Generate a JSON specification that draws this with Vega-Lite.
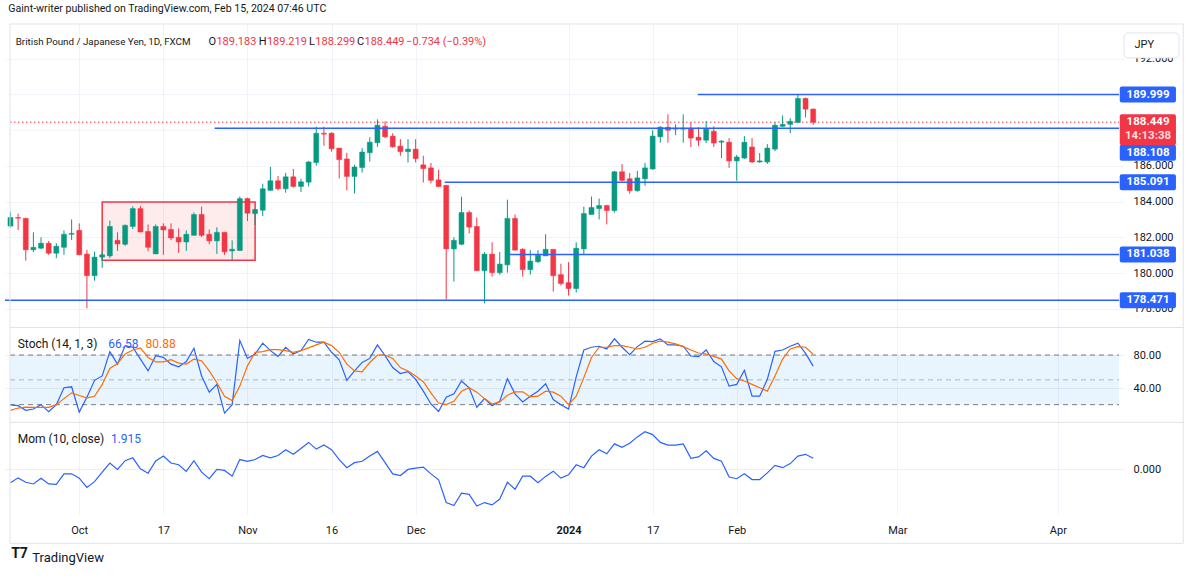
{
  "$schema": "https://vega.github.io/schema/vega-lite/v6.json",
  "width": 1119,
  "height": 490,
  "autosize": {"type": "none"},
  "padding": {"left": 5, "top": 24, "right": 71, "bottom": 63},
  "background": "#ffffff",
  "config": {"view": {"stroke": null}, "font": "Roboto", "text": {"font": "Roboto"}, "axis": {"labelFont": "Roboto"}},
  "datasets": {
    "one": [{}],
    "candles": [
      {"i":-9,"o":182.63,"h":183.43,"l":182.55,"c":183.11},
      {"i":-8,"o":183.11,"h":183.33,"l":182.41,"c":183.07},
      {"i":-7,"o":183.06,"h":183.1,"l":180.69,"c":181.3},
      {"i":-6,"o":181.3,"h":182.28,"l":181.17,"c":181.44},
      {"i":-5,"o":181.39,"h":182.0,"l":181.33,"c":181.67},
      {"i":-4,"o":181.67,"h":181.8,"l":181.02,"c":181.11},
      {"i":-3,"o":181.11,"h":181.67,"l":180.83,"c":181.5},
      {"i":-2,"o":181.44,"h":182.39,"l":181.02,"c":182.17},
      {"i":-1,"o":182.17,"h":183.0,"l":181.85,"c":182.22},
      {"i":0,"o":182.39,"h":182.78,"l":181.0,"c":181.02},
      {"i":1,"o":181.06,"h":181.3,"l":178.02,"c":179.85},
      {"i":2,"o":179.85,"h":181.2,"l":179.57,"c":180.89},
      {"i":3,"o":180.89,"h":181.17,"l":180.28,"c":181.02},
      {"i":4,"o":180.96,"h":182.94,"l":180.83,"c":182.61},
      {"i":5,"o":181.83,"h":182.28,"l":181.24,"c":181.63},
      {"i":6,"o":181.61,"h":182.72,"l":181.52,"c":182.67},
      {"i":7,"o":182.61,"h":183.74,"l":182.46,"c":183.61},
      {"i":8,"o":183.61,"h":183.76,"l":182.28,"c":182.3},
      {"i":9,"o":182.33,"h":182.72,"l":181.22,"c":181.44},
      {"i":10,"o":181.07,"h":182.72,"l":181.07,"c":182.61},
      {"i":11,"o":182.61,"h":182.78,"l":181.02,"c":182.41},
      {"i":12,"o":182.44,"h":182.78,"l":181.85,"c":181.96},
      {"i":13,"o":182.0,"h":182.5,"l":181.13,"c":181.74},
      {"i":14,"o":181.74,"h":182.39,"l":181.24,"c":182.17},
      {"i":15,"o":182.11,"h":183.39,"l":182.11,"c":183.28},
      {"i":16,"o":183.28,"h":183.72,"l":182.02,"c":182.11},
      {"i":17,"o":182.17,"h":182.44,"l":181.61,"c":181.8},
      {"i":18,"o":181.8,"h":182.56,"l":181.07,"c":182.28},
      {"i":19,"o":182.28,"h":182.28,"l":181.02,"c":181.19},
      {"i":20,"o":181.24,"h":181.83,"l":180.74,"c":181.33},
      {"i":21,"o":181.26,"h":184.28,"l":181.24,"c":184.17},
      {"i":22,"o":184.17,"h":184.22,"l":182.91,"c":183.35},
      {"i":23,"o":183.33,"h":183.56,"l":182.69,"c":183.56},
      {"i":24,"o":183.52,"h":185.0,"l":183.19,"c":184.72},
      {"i":25,"o":184.63,"h":185.94,"l":184.63,"c":185.17},
      {"i":26,"o":185.17,"h":185.44,"l":184.63,"c":184.72},
      {"i":27,"o":184.72,"h":185.61,"l":184.5,"c":185.39},
      {"i":28,"o":185.39,"h":185.83,"l":184.78,"c":184.85},
      {"i":29,"o":184.85,"h":185.28,"l":184.54,"c":185.11},
      {"i":30,"o":185.09,"h":186.28,"l":184.85,"c":186.22},
      {"i":31,"o":186.19,"h":188.2,"l":186.02,"c":187.83},
      {"i":32,"o":187.83,"h":188.2,"l":187.13,"c":187.78},
      {"i":33,"o":187.83,"h":187.89,"l":186.8,"c":186.96},
      {"i":34,"o":187.0,"h":187.0,"l":185.3,"c":186.35},
      {"i":35,"o":186.39,"h":186.74,"l":184.63,"c":185.41},
      {"i":36,"o":185.41,"h":186.06,"l":184.46,"c":185.94},
      {"i":37,"o":185.91,"h":187.0,"l":185.63,"c":186.78},
      {"i":38,"o":186.74,"h":187.61,"l":186.24,"c":187.33},
      {"i":39,"o":187.3,"h":188.61,"l":187.07,"c":188.28},
      {"i":40,"o":188.22,"h":188.5,"l":187.56,"c":187.63},
      {"i":41,"o":187.67,"h":187.83,"l":187.02,"c":187.07},
      {"i":42,"o":187.11,"h":187.5,"l":186.57,"c":186.8},
      {"i":43,"o":186.8,"h":187.5,"l":186.19,"c":186.94},
      {"i":44,"o":186.94,"h":187.5,"l":186.19,"c":186.41},
      {"i":45,"o":186.06,"h":186.57,"l":185.07,"c":185.85},
      {"i":46,"o":185.89,"h":186.17,"l":185.02,"c":185.19},
      {"i":47,"o":185.22,"h":185.78,"l":184.8,"c":184.85},
      {"i":48,"o":184.91,"h":184.94,"l":178.52,"c":181.35},
      {"i":49,"o":181.35,"h":182.0,"l":179.52,"c":181.83},
      {"i":50,"o":181.61,"h":184.28,"l":181.56,"c":183.39},
      {"i":51,"o":183.39,"h":183.5,"l":182.22,"c":182.57},
      {"i":52,"o":182.61,"h":183.11,"l":180.13,"c":180.13},
      {"i":53,"o":180.13,"h":181.17,"l":178.3,"c":181.06},
      {"i":54,"o":181.06,"h":181.72,"l":179.8,"c":180.02},
      {"i":55,"o":180.02,"h":181.17,"l":179.91,"c":180.5},
      {"i":56,"o":180.46,"h":184.11,"l":180.02,"c":183.06},
      {"i":57,"o":183.06,"h":183.28,"l":181.28,"c":181.28},
      {"i":58,"o":181.33,"h":181.39,"l":179.8,"c":180.19},
      {"i":59,"o":180.19,"h":181.28,"l":179.91,"c":180.67},
      {"i":60,"o":180.63,"h":181.28,"l":180.57,"c":181.0},
      {"i":61,"o":180.96,"h":182.17,"l":180.96,"c":181.33},
      {"i":62,"o":181.33,"h":181.33,"l":178.96,"c":179.85},
      {"i":63,"o":179.91,"h":180.52,"l":179.3,"c":179.41},
      {"i":64,"o":179.46,"h":180.61,"l":178.74,"c":179.13},
      {"i":65,"o":179.13,"h":181.72,"l":178.91,"c":181.39},
      {"i":66,"o":181.35,"h":183.72,"l":181.02,"c":183.33},
      {"i":67,"o":183.28,"h":184.28,"l":183.28,"c":183.67},
      {"i":68,"o":183.61,"h":184.17,"l":183.0,"c":183.78},
      {"i":69,"o":183.78,"h":183.83,"l":182.72,"c":183.5},
      {"i":70,"o":183.5,"h":185.72,"l":183.39,"c":185.67},
      {"i":71,"o":185.67,"h":186.11,"l":185.13,"c":185.19},
      {"i":72,"o":185.28,"h":185.61,"l":184.44,"c":184.61},
      {"i":73,"o":184.61,"h":185.72,"l":184.56,"c":185.33},
      {"i":74,"o":185.28,"h":186.17,"l":184.89,"c":185.89},
      {"i":75,"o":185.83,"h":188.0,"l":185.78,"c":187.67},
      {"i":76,"o":187.63,"h":188.22,"l":187.3,"c":188.17},
      {"i":77,"o":188.17,"h":188.89,"l":187.3,"c":188.0},
      {"i":78,"o":188.06,"h":188.33,"l":187.72,"c":188.11},
      {"i":79,"o":188.06,"h":188.89,"l":187.3,"c":188.11},
      {"i":80,"o":188.11,"h":188.44,"l":187.06,"c":187.56},
      {"i":81,"o":187.61,"h":188.17,"l":187.11,"c":187.44},
      {"i":82,"o":187.44,"h":188.5,"l":187.28,"c":188.06},
      {"i":83,"o":187.94,"h":188.22,"l":187.06,"c":187.28},
      {"i":84,"o":187.33,"h":187.44,"l":186.44,"c":187.39},
      {"i":85,"o":187.33,"h":187.56,"l":185.89,"c":186.28},
      {"i":86,"o":186.28,"h":186.61,"l":185.17,"c":186.5},
      {"i":87,"o":186.44,"h":187.67,"l":186.39,"c":187.33},
      {"i":88,"o":187.06,"h":187.56,"l":186.17,"c":186.22},
      {"i":89,"o":186.22,"h":186.72,"l":186.17,"c":186.28},
      {"i":90,"o":186.22,"h":187.22,"l":186.11,"c":187.0},
      {"i":91,"o":186.94,"h":188.44,"l":186.83,"c":188.28},
      {"i":92,"o":188.22,"h":188.83,"l":188.17,"c":188.33},
      {"i":93,"o":188.33,"h":188.67,"l":187.83,"c":188.5},
      {"i":94,"o":188.44,"h":190.0,"l":188.39,"c":189.78},
      {"i":95,"o":189.78,"h":189.83,"l":188.72,"c":189.18},
      {"i":96,"o":189.183,"h":189.219,"l":188.299,"c":188.449}
    ],
    "ind": [
      {"i":-9,"k":19.6,"d":13.1,"m":-2.3},
      {"i":-8,"k":18.8,"d":15.9,"m":-1.45},
      {"i":-7,"k":13.1,"d":17.1,"m":-2.2},
      {"i":-6,"k":14.7,"d":16.7,"m":-2.5},
      {"i":-5,"k":20.0,"d":16.7,"m":-1.5},
      {"i":-4,"k":11.4,"d":16.7,"m":-2.5},
      {"i":-3,"k":20.0,"d":20.0,"m":-2.56},
      {"i":-2,"k":40.4,"d":27.3,"m":-0.76},
      {"i":-1,"k":41.6,"d":34.3,"m":-0.76},
      {"i":0,"k":11.0,"d":31.0,"m":-1.5},
      {"i":1,"k":29.0,"d":28.2,"m":-3.1},
      {"i":2,"k":49.4,"d":30.2,"m":-2.1},
      {"i":3,"k":54.7,"d":44.5,"m":-0.47},
      {"i":4,"k":84.1,"d":63.7,"m":1.1},
      {"i":5,"k":69.0,"d":69.8,"m":0.0},
      {"i":6,"k":91.4,"d":81.2,"m":1.5},
      {"i":7,"k":89.4,"d":86.1,"m":2.0},
      {"i":8,"k":75.1,"d":88.6,"m":0.1},
      {"i":9,"k":60.8,"d":77.1,"m":-0.64},
      {"i":10,"k":79.2,"d":71.8,"m":1.45},
      {"i":11,"k":77.1,"d":71.8,"m":2.3},
      {"i":12,"k":69.0,"d":74.3,"m":1.1},
      {"i":13,"k":65.7,"d":70.2,"m":0.8},
      {"i":14,"k":72.2,"d":69.0,"m":-0.35},
      {"i":15,"k":88.2,"d":75.1,"m":1.5},
      {"i":16,"k":54.7,"d":73.1,"m":-0.47},
      {"i":17,"k":35.1,"d":60.8,"m":-1.6},
      {"i":18,"k":44.5,"d":46.5,"m":0.0},
      {"i":19,"k":9.8,"d":30.2,"m":-0.17},
      {"i":20,"k":20.0,"d":24.9,"m":-1.16},
      {"i":21,"k":97.6,"d":42.4,"m":1.7},
      {"i":22,"k":75.9,"d":66.9,"m":1.4},
      {"i":23,"k":81.2,"d":83.3,"m":1.7},
      {"i":24,"k":94.3,"d":84.1,"m":2.4},
      {"i":25,"k":85.3,"d":86.5,"m":2.0},
      {"i":26,"k":78.4,"d":86.5,"m":2.4},
      {"i":27,"k":89.4,"d":85.3,"m":3.4},
      {"i":28,"k":81.2,"d":83.3,"m":2.6},
      {"i":29,"k":85.3,"d":85.3,"m":3.6},
      {"i":30,"k":98.8,"d":88.6,"m":4.65},
      {"i":31,"k":95.5,"d":92.2,"m":3.5},
      {"i":32,"k":95.5,"d":95.5,"m":4.2},
      {"i":33,"k":83.3,"d":91.4,"m":3.4},
      {"i":34,"k":74.3,"d":83.3,"m":1.7},
      {"i":35,"k":49.4,"d":69.0,"m":0.3},
      {"i":36,"k":60.8,"d":60.8,"m":1.16},
      {"i":37,"k":71.0,"d":59.6,"m":1.4},
      {"i":38,"k":75.9,"d":71.0,"m":2.3},
      {"i":39,"k":92.2,"d":80.0,"m":3.1},
      {"i":40,"k":79.2,"d":80.0,"m":1.16},
      {"i":41,"k":64.9,"d":75.9,"m":-0.76},
      {"i":42,"k":57.6,"d":64.9,"m":-1.05},
      {"i":43,"k":60.0,"d":60.8,"m":0.0},
      {"i":44,"k":50.6,"d":54.7,"m":0.23},
      {"i":45,"k":36.3,"d":47.8,"m":0.4},
      {"i":46,"k":20.8,"d":34.3,"m":-0.76},
      {"i":47,"k":11.8,"d":22.0,"m":-1.8},
      {"i":48,"k":29.0,"d":20.0,"m":-5.7},
      {"i":49,"k":33.1,"d":24.1,"m":-6.2},
      {"i":50,"k":48.6,"d":36.3,"m":-4.1},
      {"i":51,"k":40.4,"d":40.4,"m":-4.3},
      {"i":52,"k":16.7,"d":35.1,"m":-6.3},
      {"i":53,"k":27.3,"d":27.3,"m":-5.7},
      {"i":54,"k":18.8,"d":20.8,"m":-6.1},
      {"i":55,"k":24.1,"d":23.3,"m":-5.1},
      {"i":56,"k":51.4,"d":31.4,"m":-2.2},
      {"i":57,"k":33.1,"d":35.5,"m":-3.4},
      {"i":58,"k":23.3,"d":35.5,"m":-1.16},
      {"i":59,"k":30.2,"d":29.4,"m":-1.16},
      {"i":60,"k":36.3,"d":30.2,"m":-2.3},
      {"i":61,"k":45.3,"d":36.3,"m":-1.2},
      {"i":62,"k":26.1,"d":35.1,"m":-0.3},
      {"i":63,"k":20.0,"d":30.2,"m":-1.5},
      {"i":64,"k":14.7,"d":20.0,"m":-0.93},
      {"i":65,"k":53.5,"d":30.2,"m":0.8},
      {"i":66,"k":86.1,"d":52.7,"m":0.3},
      {"i":67,"k":89.4,"d":77.1,"m":2.3},
      {"i":68,"k":90.6,"d":89.4,"m":3.4},
      {"i":69,"k":87.3,"d":89.4,"m":2.7},
      {"i":70,"k":99.6,"d":91.4,"m":4.4},
      {"i":71,"k":89.4,"d":91.4,"m":3.8},
      {"i":72,"k":80.4,"d":89.4,"m":4.5},
      {"i":73,"k":90.2,"d":87.3,"m":5.6},
      {"i":74,"k":96.7,"d":89.4,"m":6.5},
      {"i":75,"k":96.3,"d":94.3,"m":6.0},
      {"i":76,"k":99.6,"d":96.7,"m":4.65},
      {"i":77,"k":92.2,"d":95.5,"m":4.2},
      {"i":78,"k":92.2,"d":93.5,"m":4.2},
      {"i":79,"k":90.6,"d":90.2,"m":4.4},
      {"i":80,"k":78.8,"d":86.1,"m":1.9},
      {"i":81,"k":78.0,"d":82.4,"m":2.15},
      {"i":82,"k":86.1,"d":81.2,"m":3.2},
      {"i":83,"k":72.2,"d":78.4,"m":1.9},
      {"i":84,"k":65.7,"d":75.1,"m":1.4},
      {"i":85,"k":42.4,"d":60.8,"m":-1.3},
      {"i":86,"k":44.5,"d":51.4,"m":-1.6},
      {"i":87,"k":61.6,"d":48.6,"m":-0.76},
      {"i":88,"k":30.2,"d":44.5,"m":-1.74},
      {"i":89,"k":30.2,"d":40.4,"m":-1.74},
      {"i":90,"k":50.6,"d":36.3,"m":-0.6},
      {"i":91,"k":84.5,"d":54.7,"m":0.7},
      {"i":92,"k":86.1,"d":75.1,"m":0.3},
      {"i":93,"k":90.6,"d":87.3,"m":1.0},
      {"i":94,"k":94.3,"d":90.2,"m":2.3},
      {"i":95,"k":82.0,"d":89.4,"m":2.6},
      {"i":96,"k":66.58,"d":80.88,"m":1.915}
    ],
    "levels": [
      {"v":189.999,"s":80.9},
      {"v":188.108,"s":17.7},
      {"v":185.091,"s":47.8},
      {"v":181.038,"s":56.3},
      {"v":178.471,"s":-10}
    ]
  },
  "layer": [
    {
      "layer": [
        {
          "data": {"values": [{"g": 188}, {"g": 190}]},
          "mark": {"type": "rule", "stroke": "#f0f3fa", "strokeWidth": 1},
          "encoding": {
            "x": {"datum": -9.06, "type": "quantitative", "scale": {"domain": [-9.06, 136], "nice": false, "zero": false}},
            "x2": {"datum": 136},
            "y": {"field": "g", "type": "quantitative", "scale": {"domain": [166.78, 193.67], "nice": false, "zero": false}}
          }
        },
        {
          "data": {"name": "one"},
          "mark": {"type": "rect", "fill": "#f23645", "fillOpacity": 0.1, "stroke": "#f23645", "strokeWidth": 1.5},
          "encoding": {
            "x": {"datum": 3.0, "type": "quantitative", "scale": {"domain": [-9.06, 136], "nice": false, "zero": false}},
            "x2": {"datum": 23.0},
            "y": {"datum": 183.98, "type": "quantitative", "scale": {"domain": [166.78, 193.67], "nice": false, "zero": false}},
            "y2": {"datum": 180.71}
          }
        },
        {
          "data": {"name": "candles"},
          "transform": [{"filter": "datum.i == 96"}],
          "mark": {"type": "rule", "stroke": "#f23645", "strokeDash": [1.5, 2.5], "strokeWidth": 1},
          "encoding": {
            "x": {"datum": -9.06, "type": "quantitative", "scale": {"domain": [-9.06, 136], "nice": false, "zero": false}},
            "x2": {"datum": 136},
            "y": {"field": "c", "type": "quantitative", "scale": {"domain": [166.78, 193.67], "nice": false, "zero": false}}
          }
        },
        {
          "data": {"name": "candles"},
          "mark": {"type": "rule", "strokeWidth": 1, "clip": true},
          "encoding": {
            "x": {"field": "i", "type": "quantitative", "scale": {"domain": [-9.06, 136], "nice": false, "zero": false}},
            "y": {"field": "l", "type": "quantitative", "scale": {"domain": [166.78, 193.67], "nice": false, "zero": false}},
            "y2": {"field": "h"},
            "color": {"condition": {"test": "datum.c >= datum.o", "value": "#089981"}, "value": "#f23645"}
          }
        },
        {
          "data": {"name": "candles"},
          "mark": {"type": "bar", "width": 5, "strokeWidth": 0.5, "clip": true},
          "encoding": {
            "x": {"field": "i", "type": "quantitative", "scale": {"domain": [-9.06, 136], "nice": false, "zero": false}},
            "y": {
              "field": "o", "type": "quantitative",
              "scale": {"domain": [166.78, 193.67], "nice": false, "zero": false},
              "axis": {"orient": "right", "values": [178, 180, 182, 184, 186, 192], "format": ".3f", "grid": true, "gridColor": "#f0f3fa", "domain": false, "ticks": false, "tickSize": 0, "labelPadding": 9, "labelFontSize": 11, "labelColor": "#131722", "labelOverlap": false, "labelBound": false, "title": null, "zindex": 0}
            },
            "y2": {"field": "c"},
            "color": {"condition": {"test": "datum.c >= datum.o", "value": "#089981"}, "value": "#f23645"},
            "stroke": {"condition": {"test": "datum.c >= datum.o", "value": "#089981"}, "value": "#f23645"}
          }
        },
        {
          "data": {"name": "levels"},
          "mark": {"type": "rule", "stroke": "#2962ff", "strokeWidth": 1.5, "clip": true},
          "encoding": {
            "x": {"field": "s", "type": "quantitative", "scale": {"domain": [-9.06, 136], "nice": false, "zero": false}},
            "x2": {"datum": 136},
            "y": {"field": "v", "type": "quantitative", "scale": {"domain": [166.78, 193.67], "nice": false, "zero": false}}
          }
        },
        {
          "data": {"name": "levels"},
          "transform": [{"filter": "datum.v != 188.108"}],
          "mark": {"type": "bar", "height": 16, "fill": "#2962ff", "cornerRadius": 2},
          "encoding": {
            "x": {"datum": 136.1, "type": "quantitative", "scale": {"domain": [-9.06, 136], "nice": false, "zero": false}},
            "x2": {"datum": 143.45},
            "y": {"field": "v", "type": "quantitative", "scale": {"domain": [166.78, 193.67], "nice": false, "zero": false}}
          }
        },
        {
          "data": {"name": "levels"},
          "transform": [{"filter": "datum.v != 188.108"}],
          "mark": {"type": "text", "color": "#ffffff", "fontSize": 11.5, "fontWeight": "bold", "align": "center", "baseline": "middle"},
          "encoding": {
            "x": {"datum": 139.8, "type": "quantitative", "scale": {"domain": [-9.06, 136], "nice": false, "zero": false}},
            "y": {"field": "v", "type": "quantitative", "scale": {"domain": [166.78, 193.67], "nice": false, "zero": false}},
            "text": {"field": "v", "type": "quantitative", "format": ".3f"}
          }
        },
        {
          "data": {"name": "levels"},
          "transform": [{"filter": "datum.v == 188.108"}],
          "mark": {"type": "bar", "height": 16, "fill": "#2962ff", "cornerRadius": 2, "yOffset": 24.5},
          "encoding": {
            "x": {"datum": 136.1, "type": "quantitative", "scale": {"domain": [-9.06, 136], "nice": false, "zero": false}},
            "x2": {"datum": 143.45},
            "y": {"field": "v", "type": "quantitative", "scale": {"domain": [166.78, 193.67], "nice": false, "zero": false}}
          }
        },
        {
          "data": {"name": "levels"},
          "transform": [{"filter": "datum.v == 188.108"}],
          "mark": {"type": "text", "color": "#ffffff", "fontSize": 11.5, "fontWeight": "bold", "align": "center", "baseline": "middle", "dy": 24.5},
          "encoding": {
            "x": {"datum": 139.8, "type": "quantitative", "scale": {"domain": [-9.06, 136], "nice": false, "zero": false}},
            "y": {"field": "v", "type": "quantitative", "scale": {"domain": [166.78, 193.67], "nice": false, "zero": false}},
            "text": {"field": "v", "type": "quantitative", "format": ".3f"}
          }
        },
        {
          "data": {"name": "candles"},
          "transform": [{"filter": "datum.i == 96"}],
          "mark": {"type": "bar", "height": 31, "fill": "#f23645", "cornerRadius": 2, "yOffset": 7.5},
          "encoding": {
            "x": {"datum": 136.1, "type": "quantitative", "scale": {"domain": [-9.06, 136], "nice": false, "zero": false}},
            "x2": {"datum": 143.45},
            "y": {"field": "c", "type": "quantitative", "scale": {"domain": [166.78, 193.67], "nice": false, "zero": false}}
          }
        },
        {
          "data": {"name": "candles"},
          "transform": [{"filter": "datum.i == 96"}],
          "mark": {"type": "text", "color": "#ffffff", "fontSize": 11.5, "fontWeight": "bold", "align": "center", "baseline": "middle"},
          "encoding": {
            "x": {"datum": 139.8, "type": "quantitative", "scale": {"domain": [-9.06, 136], "nice": false, "zero": false}},
            "y": {"field": "c", "type": "quantitative", "scale": {"domain": [166.78, 193.67], "nice": false, "zero": false}},
            "text": {"field": "c", "type": "quantitative", "format": ".3f"}
          }
        },
        {
          "data": {"name": "candles"},
          "transform": [{"filter": "datum.i == 96"}],
          "mark": {"type": "text", "color": "#fcdcdf", "fontSize": 11.5, "fontWeight": "bold", "align": "center", "baseline": "middle", "dy": 14, "text": "14:13:38"},
          "encoding": {
            "x": {"datum": 139.8, "type": "quantitative", "scale": {"domain": [-9.06, 136], "nice": false, "zero": false}},
            "y": {"field": "c", "type": "quantitative", "scale": {"domain": [166.78, 193.67], "nice": false, "zero": false}}
          }
        },
        {
          "data": {"name": "one"},
          "mark": {"type": "rect", "fill": "#ffffff", "stroke": "#e0e3eb", "strokeWidth": 1, "cornerRadius": 4},
          "encoding": {
            "x": {"datum": 136.67, "type": "quantitative", "scale": {"domain": [-9.06, 136], "nice": false, "zero": false}},
            "x2": {"datum": 143.86},
            "y": {"datum": 193.45, "type": "quantitative", "scale": {"domain": [166.78, 193.67], "nice": false, "zero": false}},
            "y2": {"datum": 192.05}
          }
        },
        {
          "data": {"name": "one"},
          "mark": {"type": "text", "text": "JPY", "color": "#131722", "fontSize": 11, "align": "center", "baseline": "middle"},
          "encoding": {
            "x": {"datum": 139.3, "type": "quantitative", "scale": {"domain": [-9.06, 136], "nice": false, "zero": false}},
            "y": {"datum": 192.78, "type": "quantitative", "scale": {"domain": [166.78, 193.67], "nice": false, "zero": false}}
          }
        },
        {
          "data": {"name": "one"},
          "mark": {"type": "text", "text": "British Pound / Japanese Yen, 1D, FXCM", "color": "#131722", "fontSize": 9.8, "align": "left", "baseline": "middle"},
          "encoding": {
            "x": {"datum": -8.31, "type": "quantitative", "scale": {"domain": [-9.06, 136], "nice": false, "zero": false}},
            "y": {"datum": 192.95, "type": "quantitative", "scale": {"domain": [166.78, 193.67], "nice": false, "zero": false}}
          }
        },
        {
          "data": {"name": "one"},
          "mark": {"type": "text", "text": "O", "color": "#131722", "fontSize": 11, "align": "left", "baseline": "middle"},
          "encoding": {
            "x": {"datum": 16.91, "type": "quantitative", "scale": {"domain": [-9.06, 136], "nice": false, "zero": false}},
            "y": {"datum": 192.95, "type": "quantitative", "scale": {"domain": [166.78, 193.67], "nice": false, "zero": false}}
          }
        },
        {
          "data": {"name": "one"},
          "mark": {"type": "text", "text": "189.183", "color": "#f23645", "fontSize": 11, "align": "left", "baseline": "middle"},
          "encoding": {
            "x": {"datum": 17.94, "type": "quantitative", "scale": {"domain": [-9.06, 136], "nice": false, "zero": false}},
            "y": {"datum": 192.95, "type": "quantitative", "scale": {"domain": [166.78, 193.67], "nice": false, "zero": false}}
          }
        },
        {
          "data": {"name": "one"},
          "mark": {"type": "text", "text": "H", "color": "#131722", "fontSize": 11, "align": "left", "baseline": "middle"},
          "encoding": {
            "x": {"datum": 23.48, "type": "quantitative", "scale": {"domain": [-9.06, 136], "nice": false, "zero": false}},
            "y": {"datum": 192.95, "type": "quantitative", "scale": {"domain": [166.78, 193.67], "nice": false, "zero": false}}
          }
        },
        {
          "data": {"name": "one"},
          "mark": {"type": "text", "text": "189.219", "color": "#f23645", "fontSize": 11, "align": "left", "baseline": "middle"},
          "encoding": {
            "x": {"datum": 24.54, "type": "quantitative", "scale": {"domain": [-9.06, 136], "nice": false, "zero": false}},
            "y": {"datum": 192.95, "type": "quantitative", "scale": {"domain": [166.78, 193.67], "nice": false, "zero": false}}
          }
        },
        {
          "data": {"name": "one"},
          "mark": {"type": "text", "text": "L", "color": "#131722", "fontSize": 11, "align": "left", "baseline": "middle"},
          "encoding": {
            "x": {"datum": 30.06, "type": "quantitative", "scale": {"domain": [-9.06, 136], "nice": false, "zero": false}},
            "y": {"datum": 192.95, "type": "quantitative", "scale": {"domain": [166.78, 193.67], "nice": false, "zero": false}}
          }
        },
        {
          "data": {"name": "one"},
          "mark": {"type": "text", "text": "188.299", "color": "#f23645", "fontSize": 11, "align": "left", "baseline": "middle"},
          "encoding": {
            "x": {"datum": 30.87, "type": "quantitative", "scale": {"domain": [-9.06, 136], "nice": false, "zero": false}},
            "y": {"datum": 192.95, "type": "quantitative", "scale": {"domain": [166.78, 193.67], "nice": false, "zero": false}}
          }
        },
        {
          "data": {"name": "one"},
          "mark": {"type": "text", "text": "C", "color": "#131722", "fontSize": 11, "align": "left", "baseline": "middle"},
          "encoding": {
            "x": {"datum": 36.33, "type": "quantitative", "scale": {"domain": [-9.06, 136], "nice": false, "zero": false}},
            "y": {"datum": 192.95, "type": "quantitative", "scale": {"domain": [166.78, 193.67], "nice": false, "zero": false}}
          }
        },
        {
          "data": {"name": "one"},
          "mark": {"type": "text", "text": "188.449", "color": "#f23645", "fontSize": 11, "align": "left", "baseline": "middle"},
          "encoding": {
            "x": {"datum": 37.31, "type": "quantitative", "scale": {"domain": [-9.06, 136], "nice": false, "zero": false}},
            "y": {"datum": 192.95, "type": "quantitative", "scale": {"domain": [166.78, 193.67], "nice": false, "zero": false}}
          }
        },
        {
          "data": {"name": "one"},
          "mark": {"type": "text", "text": "−0.734 (−0.39%)", "color": "#f23645", "fontSize": 11, "align": "left", "baseline": "middle"},
          "encoding": {
            "x": {"datum": 42.75, "type": "quantitative", "scale": {"domain": [-9.06, 136], "nice": false, "zero": false}},
            "y": {"datum": 192.95, "type": "quantitative", "scale": {"domain": [166.78, 193.67], "nice": false, "zero": false}}
          }
        },
        {
          "data": {"name": "one"},
          "mark": {"type": "rule", "stroke": "#e0e3eb", "strokeWidth": 1},
          "encoding": {
            "x": {"datum": -9.06, "type": "quantitative", "scale": {"domain": [-9.06, 136], "nice": false, "zero": false}},
            "x2": {"datum": 144.5},
            "y": {"datum": 176.948, "type": "quantitative", "scale": {"domain": [166.78, 193.67], "nice": false, "zero": false}}
          }
        }
      ]
    },
    {
      "layer": [
        {
          "data": {"name": "one"},
          "mark": {"type": "rect", "fill": "#2196f3", "fillOpacity": 0.1},
          "encoding": {
            "x": {"datum": -9.06, "type": "quantitative", "scale": {"domain": [-9.06, 136], "nice": false, "zero": false}},
            "x2": {"datum": 136},
            "y": {"datum": 80, "type": "quantitative", "scale": {"domain": [-112.2, 480.2], "nice": false, "zero": false}},
            "y2": {"datum": 20}
          }
        },
        {
          "data": {"values": [{"b": 80}, {"b": 20}]},
          "mark": {"type": "rule", "stroke": "#787b86", "strokeDash": [5, 4], "strokeWidth": 1},
          "encoding": {
            "x": {"datum": -9.06, "type": "quantitative", "scale": {"domain": [-9.06, 136], "nice": false, "zero": false}},
            "x2": {"datum": 136},
            "y": {"field": "b", "type": "quantitative", "scale": {"domain": [-112.2, 480.2], "nice": false, "zero": false}}
          }
        },
        {
          "data": {"name": "one"},
          "mark": {"type": "rule", "stroke": "#787b86", "strokeOpacity": 0.5, "strokeDash": [5, 4], "strokeWidth": 1},
          "encoding": {
            "x": {"datum": -9.06, "type": "quantitative", "scale": {"domain": [-9.06, 136], "nice": false, "zero": false}},
            "x2": {"datum": 136},
            "y": {"datum": 50, "type": "quantitative", "scale": {"domain": [-112.2, 480.2], "nice": false, "zero": false}}
          }
        },
        {
          "data": {"name": "ind"},
          "mark": {"type": "line", "stroke": "#2962ff", "strokeWidth": 1.2, "clip": true},
          "encoding": {
            "x": {"field": "i", "type": "quantitative", "scale": {"domain": [-9.06, 136], "nice": false, "zero": false}},
            "y": {
              "field": "k", "type": "quantitative",
              "scale": {"domain": [-112.2, 480.2], "nice": false, "zero": false},
              "axis": {"orient": "right", "values": [40, 80], "format": ".2f", "grid": true, "gridColor": "#eef0f4", "domain": false, "ticks": false, "tickSize": 0, "labelPadding": 9, "labelFontSize": 11, "labelColor": "#131722", "labelOverlap": false, "labelBound": false, "title": null, "zindex": 0}
            }
          }
        },
        {
          "data": {"name": "ind"},
          "mark": {"type": "line", "stroke": "#ff6d00", "strokeWidth": 1.2, "clip": true},
          "encoding": {
            "x": {"field": "i", "type": "quantitative", "scale": {"domain": [-9.06, 136], "nice": false, "zero": false}},
            "y": {"field": "d", "type": "quantitative", "scale": {"domain": [-112.2, 480.2], "nice": false, "zero": false}}
          }
        },
        {
          "data": {"name": "one"},
          "mark": {"type": "text", "text": "Stoch (14, 1, 3)", "color": "#131722", "fontSize": 12, "align": "left", "baseline": "middle"},
          "encoding": {
            "x": {"datum": -8.05, "type": "quantitative", "scale": {"domain": [-9.06, 136], "nice": false, "zero": false}},
            "y": {"datum": 92.8, "type": "quantitative", "scale": {"domain": [-112.2, 480.2], "nice": false, "zero": false}}
          }
        },
        {
          "data": {"name": "one"},
          "mark": {"type": "text", "text": "66.58", "color": "#2962ff", "fontSize": 12, "align": "left", "baseline": "middle"},
          "encoding": {
            "x": {"datum": 3.79, "type": "quantitative", "scale": {"domain": [-9.06, 136], "nice": false, "zero": false}},
            "y": {"datum": 92.8, "type": "quantitative", "scale": {"domain": [-112.2, 480.2], "nice": false, "zero": false}}
          }
        },
        {
          "data": {"name": "one"},
          "mark": {"type": "text", "text": "80.88", "color": "#ff6d00", "fontSize": 12, "align": "left", "baseline": "middle"},
          "encoding": {
            "x": {"datum": 8.68, "type": "quantitative", "scale": {"domain": [-9.06, 136], "nice": false, "zero": false}},
            "y": {"datum": 92.8, "type": "quantitative", "scale": {"domain": [-112.2, 480.2], "nice": false, "zero": false}}
          }
        },
        {
          "data": {"name": "one"},
          "mark": {"type": "rule", "stroke": "#e0e3eb", "strokeWidth": 1},
          "encoding": {
            "x": {"datum": -9.06, "type": "quantitative", "scale": {"domain": [-9.06, 136], "nice": false, "zero": false}},
            "x2": {"datum": 144.5},
            "y": {"datum": -1.44, "type": "quantitative", "scale": {"domain": [-112.2, 480.2], "nice": false, "zero": false}}
          }
        }
      ]
    },
    {
      "layer": [
        {
          "data": {"name": "ind"},
          "mark": {"type": "line", "stroke": "#2962ff", "strokeWidth": 1.2, "clip": true},
          "encoding": {
            "x": {
              "field": "i", "type": "quantitative",
              "scale": {"domain": [-9.06, 136], "nice": false, "zero": false},
              "axis": {
                "orient": "bottom", "values": [0, 11, 22, 33, 44, 64, 75, 86, 107, 128],
                "labelExpr": "datum.value == 0 ? 'Oct' : datum.value == 11 ? '17' : datum.value == 22 ? 'Nov' : datum.value == 33 ? '16' : datum.value == 44 ? 'Dec' : datum.value == 64 ? '2024' : datum.value == 75 ? '17' : datum.value == 86 ? 'Feb' : datum.value == 107 ? 'Mar' : 'Apr'",
                "labelFontWeight": {"condition": {"test": "datum.value == 64", "value": "bold"}, "value": "normal"},
                "grid": true, "gridColor": "#f0f3fa", "domain": false, "ticks": false, "tickSize": 0,
                "labelPadding": 10, "labelFontSize": 11, "labelColor": "#131722",
                "labelOverlap": false, "labelBound": false, "labelFlush": false, "title": null, "zindex": 0
              }
            },
            "y": {
              "field": "m", "type": "quantitative",
              "scale": {"domain": [-7.67, 76.66], "nice": false, "zero": false},
              "axis": {"orient": "right", "values": [0], "format": ".3f", "grid": true, "gridColor": "#eef0f4", "domain": false, "ticks": false, "tickSize": 0, "labelPadding": 9, "labelFontSize": 11, "labelColor": "#131722", "labelOverlap": false, "labelBound": false, "title": null, "zindex": 0}
            }
          }
        },
        {
          "data": {"name": "one"},
          "mark": {"type": "text", "text": "Mom (10, close)", "color": "#131722", "fontSize": 12, "align": "left", "baseline": "middle"},
          "encoding": {
            "x": {"datum": -8.05, "type": "quantitative", "scale": {"domain": [-9.06, 136], "nice": false, "zero": false}},
            "y": {"datum": 5.31, "type": "quantitative", "scale": {"domain": [-7.67, 76.66], "nice": false, "zero": false}}
          }
        },
        {
          "data": {"name": "one"},
          "mark": {"type": "text", "text": "1.915", "color": "#2962ff", "fontSize": 12, "align": "left", "baseline": "middle"},
          "encoding": {
            "x": {"datum": 4.14, "type": "quantitative", "scale": {"domain": [-9.06, 136], "nice": false, "zero": false}},
            "y": {"datum": 5.31, "type": "quantitative", "scale": {"domain": [-7.67, 76.66], "nice": false, "zero": false}}
          }
        },
        {
          "data": {"name": "one"},
          "mark": {"type": "rect", "fill": "#ffffff", "fillOpacity": 0, "stroke": "#e0e3eb", "strokeWidth": 1},
          "encoding": {
            "x": {"datum": -9.06, "type": "quantitative", "scale": {"domain": [-9.06, 136], "nice": false, "zero": false}},
            "x2": {"datum": 144.4},
            "y": {"datum": 76.66, "type": "quantitative", "scale": {"domain": [-7.67, 76.66], "nice": false, "zero": false}},
            "y2": {"datum": -12.72}
          }
        },
        {
          "data": {"name": "one"},
          "mark": {"type": "text", "text": "Gaint-writer published on TradingView.com, Feb 15, 2024 07:46 UTC", "color": "#131722", "fontSize": 10.6, "align": "left", "baseline": "middle"},
          "encoding": {
            "x": {"datum": -9.28, "type": "quantitative", "scale": {"domain": [-9.06, 136], "nice": false, "zero": false}},
            "y": {"datum": 79.27, "type": "quantitative", "scale": {"domain": [-7.67, 76.66], "nice": false, "zero": false}}
          }
        },
        {
          "data": {"name": "one"},
          "mark": {"type": "text", "text": "T7", "color": "#131722", "fontSize": 14, "fontWeight": "bold", "align": "center", "baseline": "middle"},
          "encoding": {
            "x": {"datum": -7.81, "type": "quantitative", "scale": {"domain": [-9.06, 136], "nice": false, "zero": false}},
            "y": {"datum": -14.64, "type": "quantitative", "scale": {"domain": [-7.67, 76.66], "nice": false, "zero": false}}
          }
        },
        {
          "data": {"name": "one"},
          "mark": {"type": "text", "text": "TradingView", "color": "#131722", "fontSize": 13, "align": "left", "baseline": "middle"},
          "encoding": {
            "x": {"datum": -6.14, "type": "quantitative", "scale": {"domain": [-9.06, 136], "nice": false, "zero": false}},
            "y": {"datum": -15.29, "type": "quantitative", "scale": {"domain": [-7.67, 76.66], "nice": false, "zero": false}}
          }
        }
      ]
    }
  ],
  "resolve": {"scale": {"y": "independent"}}
}
